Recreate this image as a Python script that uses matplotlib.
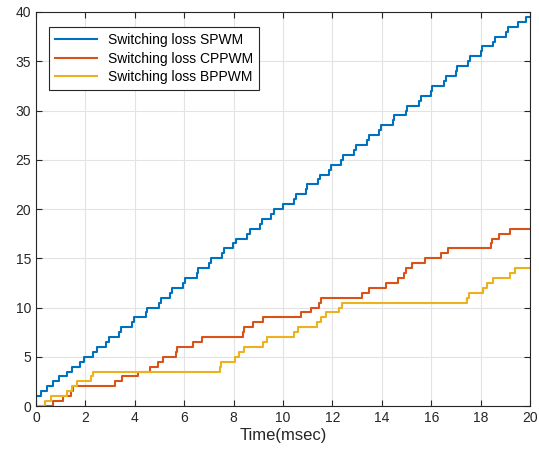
import matplotlib.pyplot as plt

plt.rcParams['font.family'] = ['Liberation Sans', 'DejaVu Sans']

# step times (msec) and cumulative loss value after each step
spwm_t = [0, 0, 0.19, 0.43, 0.70, 0.93, 1.27, 1.47, 1.78, 1.94, 2.32, 2.48, 2.82, 2.96,
          3.36, 3.45, 3.90, 3.97, 4.44, 4.51, 4.98, 5.05, 5.43, 5.49, 5.96, 6.03,
          6.51, 6.57, 7.00, 7.09, 7.52, 7.61, 7.99, 8.08, 8.53, 8.66, 9.07, 9.16,
          9.51, 9.65, 9.98, 10.45, 10.51, 10.93, 10.99, 11.43, 11.49, 11.88, 11.94,
          12.36, 12.42, 12.88, 12.94, 13.42, 13.48, 13.90, 13.96, 14.44, 14.50,
          14.98, 15.04, 15.52, 15.58, 15.99, 16.05, 16.53, 16.59, 17.00, 17.06,
          17.50, 17.56, 18.01, 18.07, 18.52, 18.58, 19.03, 19.09, 19.53, 19.85, 20]
spwm_v = [0, 1, 1.5, 2, 2.5, 3, 3.5, 4, 4.5, 5, 5.5, 6, 6.5, 7, 7.5, 8, 8.5, 9, 9.5, 10,
          10.5, 11, 11.5, 12, 12.5, 13, 13.5, 14, 14.5, 15, 15.5, 16, 16.5, 17, 17.5,
          18, 18.5, 19, 19.5, 20, 20.5, 21, 21.5, 22, 22.5, 23, 23.5, 24, 24.5, 25,
          25.5, 26, 26.5, 27, 27.5, 28, 28.5, 29, 29.5, 30, 30.5, 31, 31.5, 32, 32.5,
          33, 33.5, 34, 34.5, 35, 35.5, 36, 36.5, 37, 37.5, 38, 38.5, 39, 39.5, 39.5]

cppwm_t = [0, 0.68, 1.10, 1.42, 1.48, 3.20, 3.47, 4.14, 4.62, 4.95, 5.15, 5.65, 5.72,
           6.37, 6.71, 8.37, 8.42, 8.80, 9.18, 10.73, 11.12, 11.47, 11.52, 13.19,
           13.50, 14.17, 14.67, 14.90, 14.97, 15.21, 15.75, 16.38, 16.69, 18.41,
           18.46, 18.76, 19.19, 20]
cppwm_v = [0, 0.5, 1, 1.5, 2, 2.5, 3, 3.5, 4, 4.5, 5, 5.5, 6, 6.5, 7, 7.5, 8, 8.5, 9,
           9.5, 10, 10.5, 11, 11.5, 12, 12.5, 13, 13.5, 14, 14.5, 15, 15.5, 16, 16.5,
           17, 17.5, 18, 18]

bppwm_t = [0, 0.38, 0.60, 1.27, 1.47, 1.67, 2.24, 2.32, 7.45, 7.50, 8.06, 8.23, 8.42,
           9.18, 9.37, 10.45, 10.62, 11.36, 11.53, 11.74, 12.27, 12.38, 17.46, 17.54,
           18.11, 18.27, 18.49, 19.19, 19.39, 20]
bppwm_v = [0, 0.5, 1, 1.5, 2, 2.5, 3, 3.5, 4, 4.5, 5, 5.5, 6, 6.5, 7, 7.5, 8, 8.5, 9,
           9.5, 10, 10.5, 11, 11.5, 12, 12.5, 13, 13.5, 14, 14]

labels = ['Switching loss SPWM', 'Switching loss CPPWM', 'Switching loss BPPWM']
colors = ['#0072BD', '#D95319', '#EDB120']

fig = plt.figure(figsize=(5.39, 4.58), dpi=100)
ax = fig.add_axes([0.0668, 0.1135, 0.9165, 0.8603])

for t, v, lab, c in zip([spwm_t, cppwm_t, bppwm_t], [spwm_v, cppwm_v, bppwm_v], labels, colors):
    ax.step(t, v, where='post', color=c, lw=1.5, label=lab)

ax.set_xlim(0, 20)
ax.set_ylim(0, 40)
ax.set_xticks(range(0, 21, 2))
ax.set_yticks(range(0, 41, 5))
ax.grid(True, color='#e3e3e3', lw=0.8)
ax.set_axisbelow(True)
ax.tick_params(direction='in', top=True, right=True, labelsize=10, colors='#262626', length=4)
for s in ax.spines.values():
    s.set_color('#262626')
ax.set_xlabel('Time(msec)', fontsize=12, color='#262626', labelpad=2)

leg = ax.legend(loc='upper left', bbox_to_anchor=(0.026, 0.962), fontsize=10, fancybox=False,
                edgecolor='#262626', framealpha=1, handlelength=3.0, borderpad=0.45,
                labelspacing=0.32, borderaxespad=0)
leg.get_frame().set_linewidth(0.8)

fig.savefig('out.png', dpi=100)
